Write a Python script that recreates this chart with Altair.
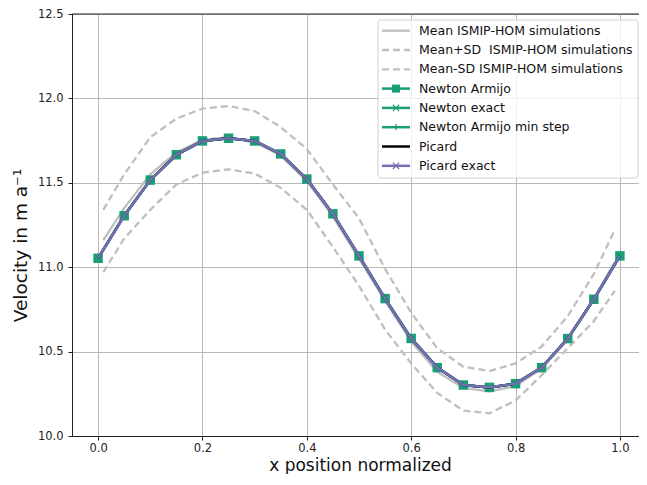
import altair as alt
import pandas as pd

# ---------------- data ----------------
x_model = [0.00, 0.05, 0.10, 0.15, 0.20, 0.25, 0.30, 0.35, 0.40, 0.45, 0.50,
           0.55, 0.60, 0.65, 0.70, 0.75, 0.80, 0.85, 0.90, 0.95, 1.00]
newton_armijo = [11.053, 11.305, 11.516, 11.666, 11.748, 11.764, 11.748, 11.671, 11.522, 11.316, 11.067,
                 10.814, 10.578, 10.405, 10.302, 10.288, 10.310, 10.405, 10.577, 10.810, 11.067]
newton_exact = [11.053, 11.305, 11.516, 11.666, 11.748, 11.764, 11.748, 11.671, 11.522, 11.316, 11.067,
                10.814, 10.578, 10.405, 10.302, 10.288, 10.310, 10.405, 10.577, 10.810, 11.067]
newton_armijo_min_step = [11.053, 11.305, 11.516, 11.666, 11.748, 11.764, 11.748, 11.671, 11.522, 11.316, 11.067,
                          10.814, 10.578, 10.405, 10.302, 10.288, 10.310, 10.405, 10.577, 10.810, 11.067]
picard = [11.053, 11.305, 11.516, 11.666, 11.748, 11.764, 11.748, 11.671, 11.522, 11.316, 11.067,
          10.814, 10.578, 10.405, 10.302, 10.288, 10.310, 10.405, 10.577, 10.810, 11.067]
picard_exact = [11.053, 11.305, 11.516, 11.666, 11.748, 11.764, 11.748, 11.671, 11.522, 11.316, 11.067,
                10.814, 10.578, 10.405, 10.302, 10.288, 10.310, 10.405, 10.577, 10.810, 11.067]

x_ismip = [0.01, 0.05, 0.10, 0.15, 0.20, 0.25, 0.30, 0.35, 0.40, 0.45, 0.50,
           0.55, 0.60, 0.65, 0.70, 0.75, 0.80, 0.85, 0.90, 0.95, 0.99]
mean_ismip = [11.16, 11.35, 11.55, 11.68, 11.755, 11.77, 11.74, 11.66, 11.51, 11.30, 11.05,
              10.80, 10.56, 10.38, 10.285, 10.265, 10.295, 10.40, 10.57, 10.81, 11.03]
mean_plus_sd = [11.34, 11.55, 11.77, 11.88, 11.94, 11.955, 11.925, 11.83, 11.70, 11.49, 11.29,
                10.99, 10.73, 10.52, 10.41, 10.385, 10.43, 10.53, 10.71, 10.96, 11.22]
mean_minus_sd = [10.97, 11.17, 11.34, 11.49, 11.56, 11.58, 11.555, 11.47, 11.34, 11.12, 10.89,
                 10.63, 10.43, 10.255, 10.15, 10.135, 10.21, 10.36, 10.52, 10.68, 10.86]

legend_labels = ["Mean ISMIP-HOM simulations", "Mean+SD\u00a0 ISMIP-HOM simulations",
                 "Mean-SD ISMIP-HOM simulations", "Newton Armijo", "Newton exact",
                 "Newton Armijo min step", "Picard", "Picard exact"]

x_ticks = [0.0, 0.2, 0.4, 0.6, 0.8, 1.0]
y_ticks = [10.0, 10.5, 11.0, 11.5, 12.0, 12.5]

# ---------------- style ----------------
W, H = 567, 422          # visible view; x range extends to 574 (clipped at page edge)
XR = 574
FONT = "DejaVu Sans"
GRAY = "#bfbfbf"
TEAL = "#1b9e77"
PURPLE = "#7570b3"
DASH = [7, 4]
XSHAPE = "M-1,-1L1,1M-1,1L1,-1"
PLUS = "M-1,0L1,0M0,-1L0,1"

xscale = alt.Scale(domain=[-0.05, 1.05], range=[0, XR], nice=False, zero=False)
yscale = alt.Scale(domain=[10.0, 12.5], nice=False, zero=False)
xaxis = alt.Axis(values=x_ticks, format=".1f", grid=True, gridColor="#b0b0b0", gridWidth=0.9,
                 domainColor="#222", tickColor="#222", tickSize=4, labelPadding=2,
                 labelFontSize=11.5, labelColor="#222", labelFont=FONT,
                 titleFont=FONT, titleFontSize=17, titleFontWeight="normal", titleColor="#111",
                 titleX=288, titleY=34, titleBaseline="alphabetic", titleAlign="center")
yaxis = alt.Axis(values=y_ticks, format=".1f", grid=True, gridColor="#b0b0b0", gridWidth=0.9,
                 domainColor="#222", tickColor="#222", tickSize=4, labelPadding=5,
                 labelFontSize=11.5, labelColor="#222", labelFont=FONT,
                 titleFont=FONT, titleFontSize=18.5, titleFontWeight="normal", titleColor="#111",
                 titleX=-46, titleY=231, titleAngle=270, titleBaseline="alphabetic", titleAlign="center")

X = alt.X("x:Q", scale=xscale, axis=xaxis, title="x position normalized")
Y = alt.Y("v:Q", scale=yscale, axis=yaxis, title="Velocity in m a⁻¹")


def df(xs, ys):
    return pd.DataFrame({"x": xs, "v": ys})


layers = []
layers.append(alt.Chart(df(x_ismip, mean_ismip)).mark_line(color=GRAY, strokeWidth=2.3).encode(X, Y))
layers.append(alt.Chart(df(x_ismip, mean_plus_sd)).mark_line(color=GRAY, strokeWidth=2.3, strokeDash=DASH).encode(X, Y))
layers.append(alt.Chart(df(x_ismip, mean_minus_sd)).mark_line(color=GRAY, strokeWidth=2.3, strokeDash=DASH).encode(X, Y))
layers.append(alt.Chart(df(x_model, newton_armijo)).mark_line(color=TEAL, strokeWidth=2.5).encode(X, Y))
layers.append(alt.Chart(df(x_model, newton_armijo)).mark_point(shape="square", filled=True, size=90,
                                                              color=TEAL, opacity=1).encode(X, Y))
layers.append(alt.Chart(df(x_model, newton_exact)).mark_line(color=TEAL, strokeWidth=2.5).encode(X, Y))
layers.append(alt.Chart(df(x_model, newton_armijo_min_step)).mark_line(color=TEAL, strokeWidth=2.5).encode(X, Y))
layers.append(alt.Chart(df(x_model, picard)).mark_line(color="black", strokeWidth=2.5).encode(X, Y))
layers.append(alt.Chart(df(x_model, picard_exact)).mark_line(color=PURPLE, strokeWidth=2.6).encode(X, Y))

one = alt.Data(values=[{"k": 0}])

# top spine
layers.append(alt.Chart(one).mark_rule(color="#222", strokeWidth=1).encode(
    x=alt.value(0), x2=alt.value(XR), y=alt.value(0)))

# legend frame
layers.append(alt.Chart(one).mark_rect(fill="white", fillOpacity=0.8, stroke="#d0d0d0",
                                       strokeWidth=1, cornerRadius=3).encode(
    x=alt.value(306), x2=alt.value(566), y=alt.value(6), y2=alt.value(164)))

legend_styles = [
    dict(color=GRAY, dash=None, shape=None, width=2.3),
    dict(color=GRAY, dash=DASH, shape=None, width=2.3),
    dict(color=GRAY, dash=DASH, shape=None, width=2.3),
    dict(color=TEAL, dash=None, shape="square", width=2.5),
    dict(color=TEAL, dash=None, shape=XSHAPE, width=2.5),
    dict(color=TEAL, dash=None, shape=PLUS, width=2.5),
    dict(color="black", dash=None, shape=None, width=2.5),
    dict(color=PURPLE, dash=None, shape=XSHAPE, width=2.5),
]

for i, (label, st) in enumerate(zip(legend_labels, legend_styles)):
    yy = 16.7 + 19.3 * i
    rule_kw = dict(color=st["color"], strokeWidth=st["width"])
    if st["dash"]:
        rule_kw["strokeDash"] = st["dash"]
    layers.append(alt.Chart(one).mark_rule(**rule_kw).encode(
        x=alt.value(310), x2=alt.value(338), y=alt.value(yy)))
    if st["shape"] == "square":
        layers.append(alt.Chart(one).mark_point(shape="square", filled=True, size=64, color=st["color"],
                                                opacity=1).encode(x=alt.value(324), y=alt.value(yy)))
    elif st["shape"]:
        layers.append(alt.Chart(one).mark_point(shape=st["shape"], filled=False, size=40, color=st["color"],
                                                strokeWidth=1.2, opacity=1).encode(x=alt.value(324), y=alt.value(yy)))
    layers.append(alt.Chart(one).mark_text(align="left", baseline="middle", font=FONT, fontSize=12.5,
                                           color="#111").encode(
        x=alt.value(347), y=alt.value(yy), text=alt.value(label)))

chart = alt.layer(*layers).properties(
    width=W, height=H,
    autosize=alt.AutoSizeParams(type="none"),
    padding={"left": 64, "top": 6, "right": 0, "bottom": 38},
).configure_view(stroke=None)

chart.save("out.html", embed_options={"renderer": "svg", "actions": False})
